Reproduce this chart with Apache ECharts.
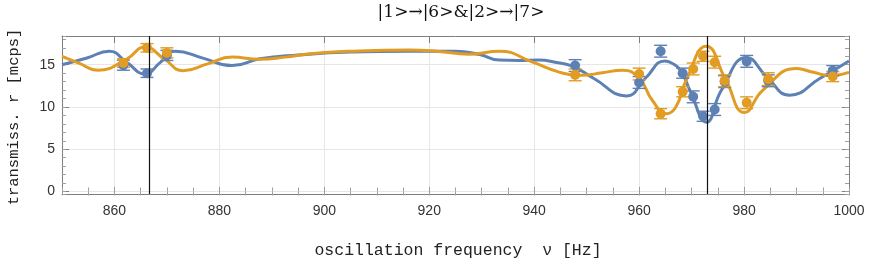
<!DOCTYPE html>
<html><head><meta charset="utf-8">
<script src="https://cdn.jsdelivr.net/npm/echarts@6/dist/echarts.min.js"></script>
<style>html,body{margin:0;padding:0;background:#fff}#c{width:869px;height:264px}</style>
</head><body><div id="c"></div>
<script>
const titleText = '|1>→|6>&|2>→|7>';
const xName = 'oscillation frequency  ν [Hz]';
const yName = 'transmiss. r [mcps]';

const measFreq   = [861.7, 866.2, 870.0, 947.8, 960.0, 964.1, 968.3, 970.3, 972.2, 974.4, 976.3, 980.5, 984.6, 996.9];
const blueMeas   = [14.95, 14.0, 16.1, 14.9, 12.9, 16.6, 14.0, 11.2, 8.9, 9.7, 13.0, 15.4, 13.1, 14.3];
const blueErr    = [0.6, 0.5, 0.6, 0.7, 0.7, 0.7, 0.6, 0.7, 0.6, 0.7, 0.7, 0.7, 0.7, 0.6];
const orangeMeas = [15.2, 17.0, 16.4, 13.8, 13.9, 9.2, 11.8, 14.5, 16.0, 15.3, 13.1, 10.5, 13.3, 13.6];
const orangeErr  = [0.5, 0.5, 0.6, 0.7, 0.7, 0.6, 0.6, 0.7, 0.6, 0.7, 0.7, 0.7, 0.75, 0.6];

const blueFitX = [850, 854.75, 859, 862.4, 865.8, 868.7, 871.6, 877, 882.4, 887.7, 895, 905, 916, 925, 929.6, 933.4, 937, 941, 944, 947.4, 951.3, 957.6, 961.2, 964.9, 966.5, 968.1, 969.8, 972.8, 975.7, 980.5, 984.3, 988.7, 994.5, 1000];
const blueFitY = [15.0, 15.8, 16.6, 15.25, 13.9, 15.25, 16.6, 15.75, 14.9, 15.7, 16.15, 16.5, 16.6, 16.6, 16.2, 15.55, 15.5, 15.55, 15.3, 14.8, 13.4, 11.3, 13.4, 15.45, 15.1, 14.1, 11.8, 8.2, 12.0, 15.85, 13.6, 11.4, 13.4, 15.45];
const orangeFitX = [850, 853.2, 856.9, 862.4, 865.8, 869.45, 873.1, 877.75, 882.4, 887.7, 892.5, 897.3, 905, 916.3, 921.5, 927.5, 933.4, 939.7, 944.9, 949, 953, 956.8, 960, 962.5, 965.2, 967, 969.0, 972.8, 976.45, 980.1, 983.6, 990, 993.2, 996.5, 1000];
const orangeFitY = [16.0, 15.2, 14.35, 15.7, 17.1, 15.7, 14.3, 15.1, 15.9, 15.65, 15.9, 16.3, 16.6, 16.75, 16.6, 16.25, 16.6, 15.3, 14.1, 13.75, 14.05, 14.35, 13.4, 10.8, 9.2, 10.0, 13.2, 17.2, 13.3, 9.35, 12.0, 14.55, 14.1, 13.7, 14.1];

const markerFreqs = [866.6, 972.9];

const BLUE = '#5E81B5', ORANGE = '#E19C24';
const FRAME = '#7f7f7f';
const tickFont = {fontFamily: 'Liberation Sans', fontSize: 14, color: '#333'};

function zip(a, b) { return a.map((v, i) => [v, b[i]]); }
function errData(m, e) { return measFreq.map((f, i) => [f, m[i] - e[i], m[i] + e[i]]); }
function errSeries(name, m, e, color) {
  return {
    name, type: 'custom', xAxisIndex: 0, yAxisIndex: 0, z: 4,
    data: errData(m, e),
    encode: {x: 0, y: [1, 2]},
    renderItem(params, api) {
      const x = api.value(0);
      const a = api.coord([x, api.value(1)]);
      const b = api.coord([x, api.value(2)]);
      const w = 6.5;
      const st = {stroke: color, lineWidth: 1.4};
      return {type: 'group', children: [
        {type: 'line', shape: {x1: a[0], y1: a[1], x2: b[0], y2: b[1]}, style: st},
        {type: 'line', shape: {x1: a[0] - w, y1: a[1], x2: a[0] + w, y2: a[1]}, style: st},
        {type: 'line', shape: {x1: b[0] - w, y1: b[1], x2: b[0] + w, y2: b[1]}, style: st}
      ]};
    }
  };
}

function majorX(pos, labels) {
  return {type: 'value', position: pos, min: 850, max: 1000, splitNumber: 7,
    axisLine: {show: true, onZero: false, lineStyle: {color: FRAME, width: 1}},
    axisTick: {show: true, inside: true, length: 7, lineStyle: {color: FRAME, width: 1}},
    axisLabel: labels ? Object.assign({show: true, margin: 10, showMinLabel: false, formatter: v => String(v)}, tickFont) : {show: false},
    splitLine: {show: labels, lineStyle: {color: '#e6e6e6', width: 1}}};
}
function minorX(pos) {
  return {type: 'value', position: pos, min: 850, max: 1000, splitNumber: 30,
    axisLine: {show: false}, axisTick: {show: true, inside: true, length: 4, lineStyle: {color: '#a0a0a0', width: 1}},
    axisLabel: {show: false}, splitLine: {show: false}};
}
function majorY(pos, labels) {
  return {type: 'value', position: pos, min: -0.3, max: 18.4, splitNumber: 4,
    axisLine: {show: true, onZero: false, lineStyle: {color: FRAME, width: 1}},
    axisTick: {show: true, inside: true, length: 7, lineStyle: {color: FRAME, width: 1}},
    axisLabel: labels ? Object.assign({show: true, margin: 7, showMinLabel: false, showMaxLabel: false, formatter: v => String(v)}, tickFont) : {show: false},
    splitLine: {show: labels, lineStyle: {color: '#e6e6e6', width: 1}}};
}
function minorY(pos) {
  return {type: 'value', position: pos, min: -0.3, max: 18.4, splitNumber: 19,
    axisLine: {show: false}, axisTick: {show: true, inside: true, length: 4, lineStyle: {color: '#a0a0a0', width: 1}},
    axisLabel: {show: false}, splitLine: {show: false}};
}

const chart = echarts.init(document.getElementById('c'), null, {renderer: 'canvas'});
chart.setOption({
  animation: false,
  backgroundColor: '#fff',
  grid: {left: 62, right: 20, top: 36, bottom: 70, containLabel: false},
  xAxis: [majorX('bottom', true), minorX('bottom'), majorX('top', false), minorX('top')],
  yAxis: [majorY('left', true), minorY('left'), majorY('right', false), minorY('right')],
  graphic: [
    {type: 'text', x: 461, y: 13, style: {text: titleText, align: 'center', verticalAlign: 'middle', fontFamily: 'DejaVu Serif', fontSize: 17, fill: '#111'}},
    {type: 'text', x: 458, y: 251, style: {text: xName, align: 'center', verticalAlign: 'middle', fontFamily: 'Liberation Mono', fontSize: 16.5, fill: '#222'}},
    {type: 'text', x: 14, y: 117, rotation: Math.PI / 2, style: {text: yName, align: 'center', verticalAlign: 'middle', fontFamily: 'Liberation Mono', fontSize: 15.5, fill: '#222'}}
  ],
  series: [
    {name: 'blueFit', type: 'line', data: zip(blueFitX, blueFitY), smooth: 0.5, showSymbol: false, z: 2,
      lineStyle: {color: BLUE, width: 3}, itemStyle: {color: BLUE}},
    {name: 'orangeFit', type: 'line', data: zip(orangeFitX, orangeFitY), smooth: 0.5, showSymbol: false, z: 3,
      lineStyle: {color: ORANGE, width: 3}, itemStyle: {color: ORANGE}},
    errSeries('blueErr', blueMeas, blueErr, BLUE),
    {name: 'blue', type: 'scatter', data: zip(measFreq, blueMeas), symbolSize: 10, z: 5, itemStyle: {color: BLUE, opacity: 1}},
    errSeries('orangeErr', orangeMeas, orangeErr, ORANGE),
    {name: 'orange', type: 'scatter', data: zip(measFreq, orangeMeas), symbolSize: 10, z: 6, itemStyle: {color: ORANGE, opacity: 1},
      markLine: {silent: true, symbol: 'none', label: {show: false}, z: 10,
        lineStyle: {color: '#111', width: 1.2, type: 'solid'},
        data: markerFreqs.map(f => ({xAxis: f}))}}
  ]
});
</script></body></html>
